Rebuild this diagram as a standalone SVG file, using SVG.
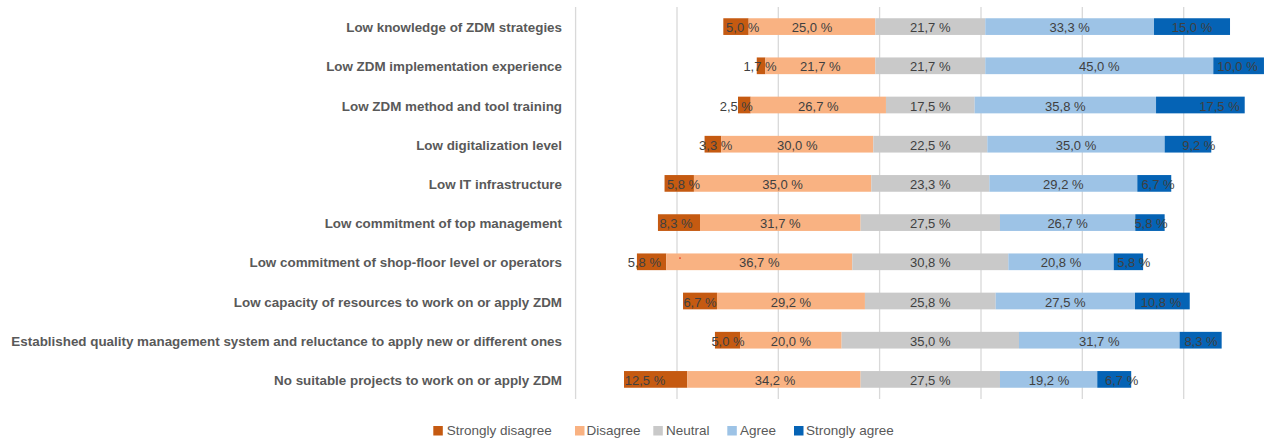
<svg xmlns="http://www.w3.org/2000/svg" width="1280" height="441" viewBox="0 0 1280 441">
<style>
.cat{font-family:"Liberation Sans",Arial,sans-serif;font-weight:bold;font-size:13.4px;fill:#595959;text-anchor:end}
.val{font-family:"Liberation Sans",Arial,sans-serif;font-size:13px;fill:#404040;text-anchor:middle}
.leg{font-family:"Liberation Sans",Arial,sans-serif;font-size:13.5px;fill:#595959}
.grid{stroke:#D9D9D9;stroke-width:1.3;fill:none}
.sd{fill:#C55A11}
.d{fill:#F9B282}
.n{fill:#C9C9C9}
.a{fill:#9DC3E6}
.sa{fill:#0563B5}
</style>
<rect width="1280" height="441" fill="#FFFFFF"/>
<g id="gridlines">
<line class="grid" x1="575.6" y1="7" x2="575.6" y2="399"/>
<line class="grid" x1="677" y1="7" x2="677" y2="399"/>
<line class="grid" x1="778.3" y1="7" x2="778.3" y2="399"/>
<line class="grid" x1="879.6" y1="7" x2="879.6" y2="399"/>
<line class="grid" x1="981" y1="7" x2="981" y2="399"/>
<line class="grid" x1="1082.3" y1="7" x2="1082.3" y2="399"/>
<line class="grid" x1="1183.7" y1="7" x2="1183.7" y2="399"/>
</g>
<g id="connectors"></g>

<g id="row1">
<text class="cat" x="562" y="32.1">Low knowledge of ZDM strategies</text>
<rect class="sd" x="723.31" y="18.25" width="25.34" height="16.7"/>
<rect class="d" x="748.65" y="18.25" width="126.68" height="16.7"/>
<rect class="n" x="875.33" y="18.25" width="109.95" height="16.7"/>
<rect class="a" x="985.28" y="18.25" width="168.73" height="16.7"/>
<rect class="sa" x="1154.01" y="18.25" width="76.01" height="16.7"/>
<text class="val" x="742.7" y="32.1">5,0 %</text>
<text class="val" x="812" y="32.1">25,0 %</text>
<text class="val" x="930.3" y="32.1">21,7 %</text>
<text class="val" x="1069.65" y="32.1">33,3 %</text>
<text class="val" x="1192" y="32.1">15,0 %</text>
</g>

<g id="row2">
<text class="cat" x="562" y="71.3">Low ZDM implementation experience</text>
<rect class="sd" x="756.76" y="57.45" width="8.61" height="16.7"/>
<rect class="d" x="765.37" y="57.45" width="109.95" height="16.7"/>
<rect class="n" x="875.32" y="57.45" width="109.95" height="16.7"/>
<rect class="a" x="985.27" y="57.45" width="228.02" height="16.7"/>
<rect class="sa" x="1213.29" y="57.45" width="50.67" height="16.7"/>
<text class="val" x="760" y="71.3">1,7 %</text>
<text class="val" x="820.35" y="71.3">21,7 %</text>
<text class="val" x="930.3" y="71.3">21,7 %</text>
<text class="val" x="1099.28" y="71.3">45,0 %</text>
<text class="val" x="1237.5" y="71.3">10,0 %</text>
</g>

<g id="row3">
<text class="cat" x="562" y="110.5">Low ZDM method and tool training</text>
<rect class="sd" x="738.01" y="96.65" width="12.67" height="16.7"/>
<rect class="d" x="750.68" y="96.65" width="135.29" height="16.7"/>
<rect class="n" x="885.97" y="96.65" width="88.67" height="16.7"/>
<rect class="a" x="974.64" y="96.65" width="181.40" height="16.7"/>
<rect class="sa" x="1156.04" y="96.65" width="88.67" height="16.7"/>
<text class="val" x="736.3" y="110.5">2,5 %</text>
<text class="val" x="818.33" y="110.5">26,7 %</text>
<text class="val" x="930.3" y="110.5">17,5 %</text>
<text class="val" x="1065.34" y="110.5">35,8 %</text>
<text class="val" x="1219.5" y="110.5">17,5 %</text>
</g>

<g id="row4">
<text class="cat" x="562" y="149.7">Low digitalization level</text>
<rect class="sd" x="704.57" y="135.85" width="16.72" height="16.7"/>
<rect class="d" x="721.29" y="135.85" width="152.01" height="16.7"/>
<rect class="n" x="873.30" y="135.85" width="114.01" height="16.7"/>
<rect class="a" x="987.31" y="135.85" width="177.35" height="16.7"/>
<rect class="sa" x="1164.66" y="135.85" width="46.62" height="16.7"/>
<text class="val" x="715.7" y="149.7">3,3 %</text>
<text class="val" x="797.3" y="149.7">30,0 %</text>
<text class="val" x="930.3" y="149.7">22,5 %</text>
<text class="val" x="1075.99" y="149.7">35,0 %</text>
<text class="val" x="1198.8" y="149.7">9,2 %</text>
</g>

<g id="row5">
<text class="cat" x="562" y="188.9">Low IT infrastructure</text>
<rect class="sd" x="664.54" y="175.05" width="29.39" height="16.7"/>
<rect class="d" x="693.93" y="175.05" width="177.35" height="16.7"/>
<rect class="n" x="871.28" y="175.05" width="118.06" height="16.7"/>
<rect class="a" x="989.34" y="175.05" width="147.96" height="16.7"/>
<rect class="sa" x="1137.30" y="175.05" width="33.95" height="16.7"/>
<text class="val" x="683.5" y="188.9">5,8 %</text>
<text class="val" x="782.61" y="188.9">35,0 %</text>
<text class="val" x="930.3" y="188.9">23,3 %</text>
<text class="val" x="1063.32" y="188.9">29,2 %</text>
<text class="val" x="1158" y="188.9">6,7 %</text>
</g>

<g id="row6">
<text class="cat" x="562" y="228.1">Low commitment of top management</text>
<rect class="sd" x="657.95" y="214.25" width="42.06" height="16.7"/>
<rect class="d" x="700.01" y="214.25" width="160.62" height="16.7"/>
<rect class="n" x="860.63" y="214.25" width="139.34" height="16.7"/>
<rect class="a" x="999.97" y="214.25" width="135.29" height="16.7"/>
<rect class="sa" x="1135.26" y="214.25" width="29.39" height="16.7"/>
<text class="val" x="676" y="228.1">8,3 %</text>
<text class="val" x="780.32" y="228.1">31,7 %</text>
<text class="val" x="930.3" y="228.1">27,5 %</text>
<text class="val" x="1067.62" y="228.1">26,7 %</text>
<text class="val" x="1151" y="228.1">5,8 %</text>
</g>

<g id="row7">
<text class="cat" x="562" y="267.3">Low commitment of shop-floor level or operators</text>
<rect class="sd" x="636.92" y="253.45" width="29.39" height="16.7"/>
<rect class="d" x="666.31" y="253.45" width="185.96" height="16.7"/>
<rect class="n" x="852.27" y="253.45" width="156.06" height="16.7"/>
<rect class="a" x="1008.33" y="253.45" width="105.39" height="16.7"/>
<rect class="sa" x="1113.72" y="253.45" width="29.39" height="16.7"/>
<rect x="679.3" y="257.4" width="1.4" height="1.4" fill="#E0301E"/>
<text class="val" x="644.4" y="267.3">5,8 %</text>
<text class="val" x="759.29" y="267.3">36,7 %</text>
<text class="val" x="930.3" y="267.3">30,8 %</text>
<text class="val" x="1061.03" y="267.3">20,8 %</text>
<text class="val" x="1133.8" y="267.3">5,8 %</text>
</g>

<g id="row8">
<text class="cat" x="562" y="306.5">Low capacity of resources to work on or apply ZDM</text>
<rect class="sd" x="683.03" y="292.65" width="33.95" height="16.7"/>
<rect class="d" x="716.98" y="292.65" width="147.96" height="16.7"/>
<rect class="n" x="864.94" y="292.65" width="130.73" height="16.7"/>
<rect class="a" x="995.67" y="292.65" width="139.34" height="16.7"/>
<rect class="sa" x="1135.01" y="292.65" width="54.72" height="16.7"/>
<text class="val" x="700" y="306.5">6,7 %</text>
<text class="val" x="790.96" y="306.5">29,2 %</text>
<text class="val" x="930.3" y="306.5">25,8 %</text>
<text class="val" x="1065.34" y="306.5">27,5 %</text>
<text class="val" x="1161" y="306.5">10,8 %</text>
</g>

<g id="row9">
<text class="cat" x="562" y="345.7">Established quality management system and reluctance to apply new or different ones</text>
<rect class="sd" x="714.95" y="331.85" width="25.34" height="16.7"/>
<rect class="d" x="740.29" y="331.85" width="101.34" height="16.7"/>
<rect class="n" x="841.63" y="331.85" width="177.35" height="16.7"/>
<rect class="a" x="1018.98" y="331.85" width="160.62" height="16.7"/>
<rect class="sa" x="1179.60" y="331.85" width="42.06" height="16.7"/>
<text class="val" x="728" y="345.7">5,0 %</text>
<text class="val" x="790.96" y="345.7">20,0 %</text>
<text class="val" x="930.3" y="345.7">35,0 %</text>
<text class="val" x="1099.29" y="345.7">31,7 %</text>
<text class="val" x="1201" y="345.7">8,3 %</text>
</g>

<g id="row10">
<text class="cat" x="562" y="384.9">No suitable projects to work on or apply ZDM</text>
<rect class="sd" x="624.0" y="371.05" width="63.34" height="16.7"/>
<rect class="d" x="687.34" y="371.05" width="173.29" height="16.7"/>
<rect class="n" x="860.63" y="371.05" width="139.34" height="16.7"/>
<rect class="a" x="999.97" y="371.05" width="97.29" height="16.7"/>
<rect class="sa" x="1097.26" y="371.05" width="33.95" height="16.7"/>
<text class="val" x="645" y="384.9">12,5 %</text>
<text class="val" x="775" y="384.9">34,2 %</text>
<text class="val" x="930.3" y="384.9">27,5 %</text>
<text class="val" x="1049" y="384.9">19,2 %</text>
<text class="val" x="1121.6" y="384.9">6,7 %</text>
</g>

<g id="legend">
<rect class="sd" x="433.3" y="426" width="9.5" height="9.5"/>
<text class="leg" x="446.7" y="434.8">Strongly disagree</text>
<rect class="d" x="575" y="426" width="9.5" height="9.5"/>
<text class="leg" x="586.5" y="434.8">Disagree</text>
<rect class="n" x="653.3" y="426" width="9.5" height="9.5"/>
<text class="leg" x="666" y="434.8">Neutral</text>
<rect class="a" x="727.3" y="426" width="9.5" height="9.5"/>
<text class="leg" x="740" y="434.8">Agree</text>
<rect class="sa" x="794" y="426" width="9.5" height="9.5"/>
<text class="leg" x="806" y="434.8">Strongly agree</text>
</g>
</svg>
